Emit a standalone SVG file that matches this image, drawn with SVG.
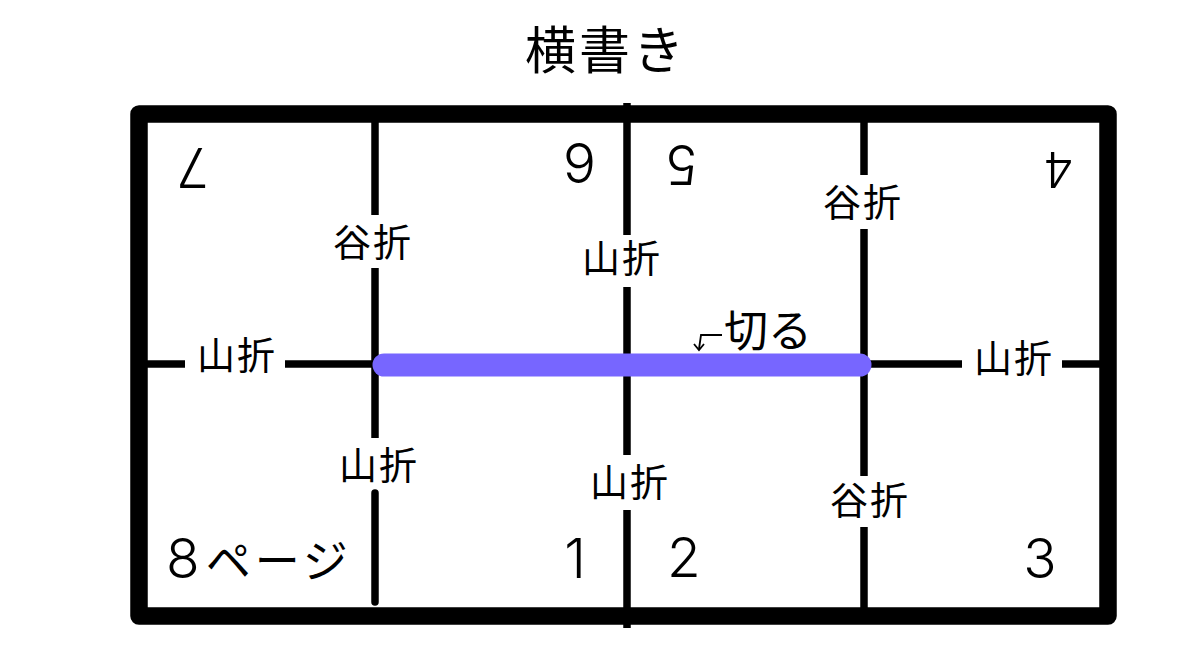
<svg xmlns="http://www.w3.org/2000/svg" width="1200" height="656" viewBox="0 0 1200 656">
<style>
.lbl{font-family:"Noto Sans CJK JP","Noto Sans",sans-serif;font-size:38px;letter-spacing:2px;text-anchor:middle;fill:#000}
.num{font-family:"Inter","Liberation Sans",sans-serif;font-weight:300;font-size:55px;text-anchor:middle;fill:#000}
.fold{stroke:#000;stroke-width:7.5;fill:none}
.frame{stroke:#000;stroke-width:17.5;fill:none;stroke-linejoin:round}
</style>
<rect width="1200" height="656" fill="#fff"/>
<text x="606" y="69" style="font-family:'Noto Sans CJK JP',sans-serif;font-size:51px;letter-spacing:3px;text-anchor:middle">横書き</text>
<g id="frame">
<path class="frame" d="M139 114 H1108 V616 H139 Z"/>
</g>
<g id="connectors">
<line class="fold" x1="627" y1="103" x2="627" y2="235"/>
<line class="fold" x1="627" y1="287" x2="627" y2="455"/>
<line class="fold" x1="627" y1="510" x2="627" y2="628"/>
<line class="fold" x1="375" y1="120" x2="375" y2="215"/>
<line class="fold" x1="375" y1="268" x2="375" y2="438"/>
<path class="fold" d="M375 493 V602" stroke-linecap="round"/>
<line class="fold" x1="864" y1="120" x2="864" y2="175"/>
<line class="fold" x1="864" y1="229" x2="864" y2="476"/>
<line class="fold" x1="864" y1="527" x2="864" y2="610"/>
<line class="fold" x1="145" y1="364" x2="185" y2="364"/>
<line class="fold" x1="285" y1="364" x2="375" y2="364"/>
<line class="fold" x1="868" y1="364" x2="962" y2="364"/>
<line class="fold" x1="1062" y1="364" x2="1102" y2="364"/>
<line x1="384" y1="365" x2="860" y2="365" stroke="#7766ff" stroke-width="23" stroke-linecap="round"/>
<path d="M722 335 H701 L699 349" stroke="#000" stroke-width="1.8" fill="none"/>
<path d="M694 344 L699 350 L704 344" stroke="#000" stroke-width="1.8" fill="none"/>
</g>
<g id="labels">
<text class="lbl" x="237" y="369">山折</text>
<text class="lbl" x="1014" y="372">山折</text>
<text class="lbl" x="373" y="256">谷折</text>
<text class="lbl" x="622" y="272">山折</text>
<text class="lbl" x="863" y="216">谷折</text>
<text class="lbl" x="379" y="479">山折</text>
<text class="lbl" x="630" y="496">山折</text>
<text class="lbl" x="870" y="514">谷折</text>
<text x="768" y="347" style="font-family:'Noto Sans CJK JP',sans-serif;font-size:44px;text-anchor:middle">切る</text>
</g>
<g id="panel-7"><text class="num" x="192.5" y="188" transform="rotate(180 192.5 168)">7</text></g>
<g id="panel-6"><text class="num" x="579.5" y="182.5" transform="rotate(180 579.5 162.5)">6</text></g>
<g id="panel-5"><text class="num" x="682" y="184.5" transform="rotate(180 682 164.5)">5</text></g>
<g id="panel-4"><text class="num" x="1058.5" y="187.5" style="font-size:49px" transform="rotate(180 1058.5 169.5)">4</text></g>
<g id="panel-8"><text x="166" y="578" style="font-family:'Inter','Liberation Sans',sans-serif;font-weight:300;font-size:55px">8<tspan dx="6" style="font-family:'Noto Sans CJK JP',sans-serif;font-weight:400;font-size:45px;letter-spacing:4px">ページ</tspan></text></g>
<g id="panel-1"><text class="num" x="575" y="578">1</text></g>
<g id="panel-2"><text class="num" x="684" y="577">2</text></g>
<g id="panel-3"><text class="num" x="1040" y="578">3</text></g>
</svg>
